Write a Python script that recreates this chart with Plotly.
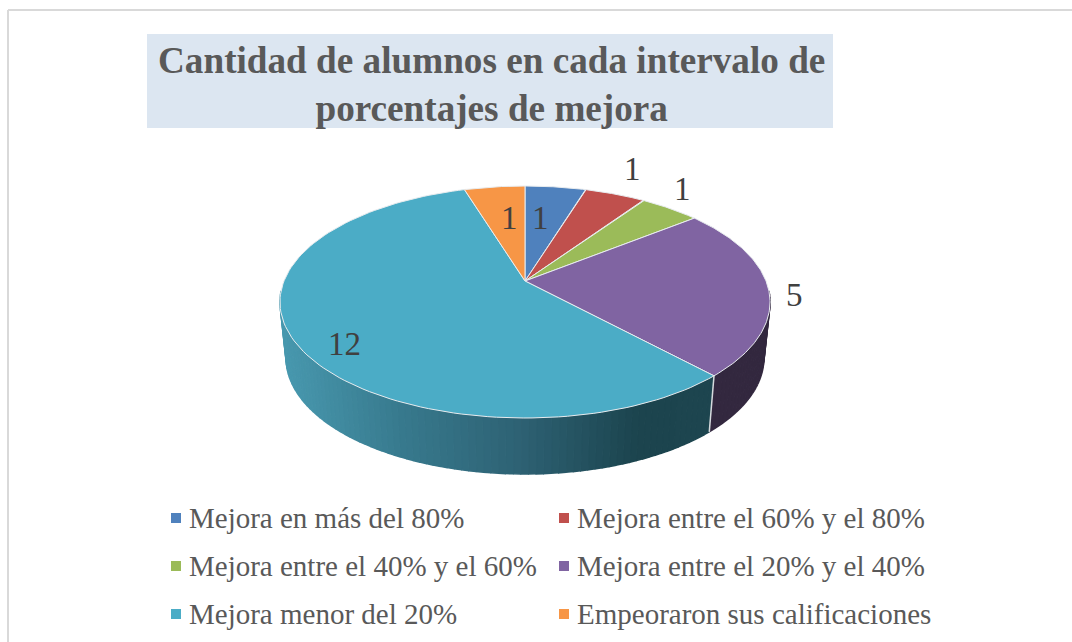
import numpy as np
import plotly.graph_objects as go

title = "Cantidad de alumnos en cada intervalo de<br>porcentajes de mejora"
categories = [
    "Mejora en más del 80%",
    "Mejora entre el 60% y el 80%",
    "Mejora entre el 40% y el 60%",
    "Mejora entre el 20% y el 40%",
    "Mejora menor del 20%",
    "Empeoraron sus calificaciones",
]
values = [1, 1, 1, 5, 12, 1]
colors = ["#4F81BD", "#C0504D", "#9BBB59", "#8064A2", "#4BACC6", "#F79646"]

# pixel position of each value label, same order as values
label_x = [540, 632, 682, 794, 344, 509]
label_y = [218, 169, 189, 295, 344, 218]

# pie geometry, perspective fitted on the picture
CX, CY = 525, 281
RX, RY, PERSP = 241, 112.2, 0.181
DEPTH, SHRINK = 56, 0.975


def top_ring(theta):
    u, v = np.sin(theta), np.cos(theta)
    d = 1 + PERSP * v
    return CX + RX * u / d, CY - RY * v / d


def bottom_ring(theta):
    x, y = top_ring(theta)
    return CX + (x - CX) * SHRINK, y + DEPTH


# Shade of the side wall: light on the left, dark towards the right
def teal_wall(x):
    stops_x = [285, 400, 520, 640, 715]
    stops_c = [(72, 152, 174), (56, 122, 142), (46, 98, 116), (28, 68, 78), (30, 70, 80)]
    return "rgb(%d,%d,%d)" % tuple(np.interp(x, stops_x, [c[i] for c in stops_c]) for i in range(3))


def wall_color(i, x):
    if i == 4:
        return teal_wall(x)
    return "#33283F"


fig = go.Figure()
edges = np.radians(np.concatenate([[0], np.cumsum(values)]) / sum(values) * 360)

# side walls first, split in thin strips to get the gradient
for i in range(len(values)):
    lo, hi = max(edges[i], np.radians(95)), min(edges[i + 1], np.radians(265))
    if lo >= hi:
        continue
    steps = np.linspace(lo, hi, max(2, int((hi - lo) / np.radians(1.5)) + 1))
    for a, b in zip(steps[:-1], steps[1:]):
        ax, ay = top_ring(np.array([a, b]))
        bx, by = bottom_ring(np.array([b, a]))
        fig.add_trace(
            go.Scatter(
                x=list(ax) + list(bx),
                y=list(ay) + list(by),
                mode="lines",
                fill="toself",
                fillcolor=wall_color(i, ax.mean()),
                line=dict(color=wall_color(i, ax.mean()), width=1.5),
                hoverinfo="skip",
                showlegend=False,
            )
        )

# white seam where two walls meet
seam = edges[4]
sx0, sy0 = top_ring(seam)
sx1, sy1 = bottom_ring(seam)
fig.add_trace(
    go.Scatter(
        x=[sx0, sx1],
        y=[sy0, sy1],
        mode="lines",
        line=dict(color="#D5DADD", width=1.5),
        hoverinfo="skip",
        showlegend=False,
    )
)

# top face
for i in range(len(values)):
    arc = np.linspace(edges[i], edges[i + 1], 120)
    ax, ay = top_ring(arc)
    fig.add_trace(
        go.Scatter(
            x=[CX] + list(ax) + [CX],
            y=[CY] + list(ay) + [CY],
            mode="lines",
            fill="toself",
            fillcolor=colors[i],
            line=dict(color="#E8ECEF", width=1),
            hoverinfo="skip",
            showlegend=False,
        )
    )

# legend squares
for i, name in enumerate(categories):
    col, row = i % 2, i // 2
    fig.add_trace(
        go.Scatter(
            x=[176 + col * 388],
            y=[518 + row * 48],
            mode="markers",
            marker=dict(symbol="square", size=10, color=colors[i]),
            hoverinfo="skip",
            showlegend=False,
        )
    )
    fig.add_annotation(
        x=187 + col * 388,
        y=518 + row * 48,
        text=name,
        showarrow=False,
        xanchor="left",
        yanchor="middle",
        font=dict(family="Liberation Serif", size=29, color="#595959"),
    )

for v, lx, ly in zip(values, label_x, label_y):
    fig.add_annotation(
        x=lx,
        y=ly,
        text=str(v),
        showarrow=False,
        font=dict(family="Liberation Serif", size=33, color="#404040"),
    )

fig.add_annotation(
    x=491.5,
    y=84.5,
    text=title,
    showarrow=False,
    font=dict(family="Liberation Serif", size=37.2, color="#595959", weight="bold"),
)

fig.update_layout(
    width=1072,
    height=642,
    margin=dict(l=0, r=0, t=0, b=0),
    paper_bgcolor="white",
    plot_bgcolor="white",
    xaxis=dict(range=[0, 1072], visible=False, fixedrange=True),
    yaxis=dict(range=[642, 0], visible=False, fixedrange=True),
    shapes=[
        dict(type="rect", x0=147, x1=833, y0=34, y1=128, fillcolor="#DCE6F1", line_width=0, layer="below"),
        dict(type="line", x0=8, x1=1072, y0=10, y1=10, line=dict(color="#D9D9D9", width=2)),
        dict(type="line", x0=8, x1=8, y0=10, y1=642, line=dict(color="#D9D9D9", width=2)),
    ],
)

# the page has a default 8px body margin, drop it so the figure fills the window
fig.write_html(
    "out.html",
    config=dict(displayModeBar=False),
    post_script="document.body.style.margin='0';document.body.style.overflow='hidden';",
)
